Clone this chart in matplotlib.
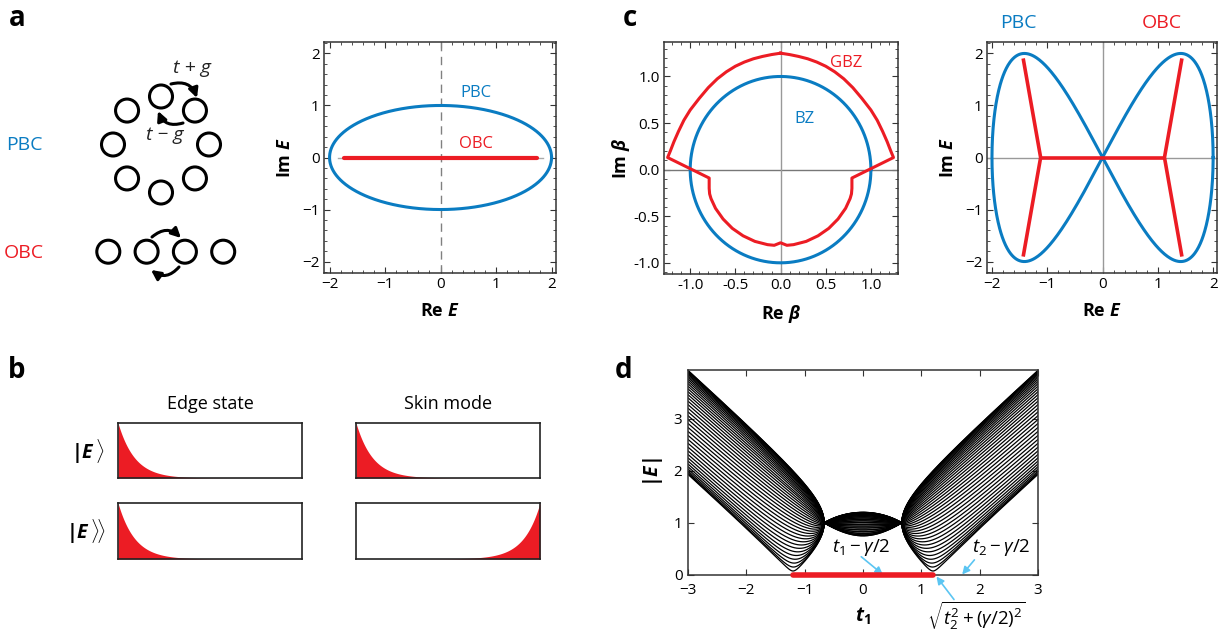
import numpy as np
import matplotlib
matplotlib.use("Agg")
import matplotlib.pyplot as plt
from matplotlib.patches import Circle, FancyArrowPatch
from matplotlib.ticker import MultipleLocator, FormatStrFormatter

# ---- panel a: hopping t +/- g (Hatano-Nelson)
t_hop = 1.0
g_hop = 0.5
obc_guide = 1.85

# ---- panel c: PBC spectrum E(k) = sum amp * exp(i n k)
pbc_orders = [1, -1, 2, -2]
pbc_amps = [1.0, 1.0, 1.0, -1.0]
# OBC branches (right half, mirrored to the left)
obc_branch_x = [1.43, 1.12, 1.43]
obc_branch_y = [1.87, 0.0, -1.87]
obc_center = 1.12
# GBZ, right half from top cusp round to bottom cusp
gbz_x = [0.0, 0.10, 0.20, 0.30, 0.40, 0.50, 0.60, 0.70, 0.80, 0.90, 1.00,
         1.07, 1.13, 1.18, 1.22, 1.25,
         0.79, 0.79, 0.785, 0.77, 0.72, 0.636, 0.534, 0.415, 0.284, 0.144, 0.07, 0.0]
gbz_y = [1.25, 1.235, 1.215, 1.19, 1.155, 1.11, 1.05, 0.975, 0.88, 0.765, 0.64,
         0.53, 0.41, 0.30, 0.20, 0.13,
         -0.09, -0.20, -0.26, -0.31, -0.415, -0.53, -0.63, -0.71, -0.77, -0.805, -0.812, -0.785]

# ---- panel d: non-Hermitian SSH chain
t2 = 1.0
gamma = 4.0 / 3.0
n_cells = 40

# ---- panel b: profile decay length (fraction of box width)
decay_len = 0.09

BLUE = "#0a7cc2"
RED = "#ec1c24"
ARROW = "#5bc5f2"
SPINE = "#333333"
FONTS = ["Open Sans", "DejaVu Sans"]

plt.rcParams["font.family"] = FONTS
plt.rcParams["mathtext.fontset"] = "custom"
plt.rcParams["mathtext.rm"] = "Open Sans"
plt.rcParams["mathtext.it"] = "Open Sans:italic"
plt.rcParams["mathtext.bf"] = "Open Sans:bold"
plt.rcParams["mathtext.bfit"] = "Open Sans:italic:bold"

W, H = 1228, 633
fig = plt.figure(figsize=(W / 100, H / 100), dpi=100)


def px_axes(l, t, r, b):
    return fig.add_axes([l / W, 1 - b / H, (r - l) / W, (b - t) / H])


def style(ax, minor=None):
    for s in ax.spines.values():
        s.set_color(SPINE)
        s.set_linewidth(1.1)
    ax.tick_params(direction="in", top=True, right=True, labelsize=11,
                   length=4, width=0.8, color=SPINE, pad=3)
    if minor is not None:
        ax.xaxis.set_minor_locator(MultipleLocator(minor[0]))
        ax.yaxis.set_minor_locator(MultipleLocator(minor[1]))
        ax.tick_params(which="minor", direction="in", top=True, right=True,
                       length=2, width=0.6, color=SPINE)


# overlay for schematic drawing, panel letters
ov = fig.add_axes([0, 0, 1, 1])
ov.set_xlim(0, W)
ov.set_ylim(H, 0)
ov.axis("off")

for lab, x, y in [("a", 17, 18), ("b", 17, 370), ("c", 630, 18), ("d", 624, 370)]:
    ov.text(x, y, lab, fontsize=20, fontweight="bold", ha="center", va="center")

# ring of 8 sites
ring_c = (161, 144.5)
for i in range(8):
    ang = np.deg2rad(90 - 45 * i)
    ov.add_patch(Circle((ring_c[0] + 48 * np.cos(ang), ring_c[1] - 48 * np.sin(ang)),
                        11.5, fill=False, lw=2.2, ec="black"))
for i in range(4):
    ov.add_patch(Circle((108.3 + 38.3 * i, 251.7), 11.5, fill=False, lw=2.2, ec="black"))


def hop_arrow(p0, p1):
    ov.add_patch(FancyArrowPatch(p0, p1, arrowstyle="-|>", mutation_scale=14,
                                 connectionstyle="arc3,rad=-0.45", lw=2.2,
                                 color="black", shrinkA=0, shrinkB=0))


hop_arrow((171, 84), (197, 98))
hop_arrow((183, 123), (158, 111))
hop_arrow((152, 237), (181, 238))
hop_arrow((179, 267), (151, 270))
ov.text(192, 68, "t + g", fontsize=14, style="italic", ha="center", va="center",
        color="#222222")
ov.text(165, 135, "t \u2212 g", fontsize=14, style="italic", ha="center", va="center",
        color="#222222")
ov.text(24, 145, "PBC", color=BLUE, fontsize=14, ha="center", va="center")
ov.text(24, 253, "OBC", color=RED, fontsize=14, ha="center", va="center")

# ---- panel a spectrum
axa = px_axes(324, 42, 556, 273)
k = np.linspace(0, 2 * np.pi, 800)
E_pbc = (t_hop + g_hop) * np.exp(1j * k) + (t_hop - g_hop) * np.exp(-1j * k)
e_obc = 2 * np.sqrt(t_hop ** 2 - g_hop ** 2)
axa.axvline(0, color="gray", lw=1, ls=(0, (6, 4)))
axa.plot([-obc_guide, obc_guide], [0, 0], color="#aaaaaa", lw=1)
axa.plot(E_pbc.real, E_pbc.imag, color=BLUE, lw=2.2)
axa.plot([-e_obc, e_obc], [0, 0], color=RED, lw=3, solid_capstyle="round")
axa.text(0.63, 1.24, "PBC", color=BLUE, fontsize=12, ha="center", va="center")
axa.text(0.63, 0.25, "OBC", color=RED, fontsize=12, ha="center", va="center")
axa.set_xlim(-2.1, 2.08)
axa.set_ylim(-2.22, 2.22)
axa.set_xticks([-2, -1, 0, 1, 2])
axa.set_yticks([-2, -1, 0, 1, 2])
style(axa, (0.2, 0.2))
axa.set_xlabel(r"Re $\mathbfit{E}$", fontsize=13, fontweight="bold", labelpad=7)
axa.set_ylabel(r"Im $\mathbfit{E}$", fontsize=13, fontweight="bold", labelpad=6)

# ---- panel c: GBZ
axc1 = px_axes(664, 42, 898, 274)
gx = np.concatenate([gbz_x, -np.array(gbz_x[::-1])])
gy = np.concatenate([gbz_y, np.array(gbz_y[::-1])])
axc1.axhline(0, color="#777777", lw=1)
axc1.axvline(0, color="#999999", lw=1)
axc1.plot(np.cos(k), np.sin(k), color=BLUE, lw=2.2)
axc1.plot(gx, gy, color=RED, lw=2.2)
axc1.text(0.73, 1.14, "GBZ", color=RED, fontsize=12, ha="center", va="center")
axc1.text(0.26, 0.54, "BZ", color=BLUE, fontsize=12, ha="center", va="center")
axc1.set_xlim(-1.29, 1.30)
axc1.set_ylim(-1.12, 1.37)
axc1.set_xticks([-1.0, -0.5, 0.0, 0.5, 1.0])
axc1.set_yticks([-1.0, -0.5, 0.0, 0.5, 1.0])
axc1.xaxis.set_major_formatter(FormatStrFormatter("%.1f"))
axc1.yaxis.set_major_formatter(FormatStrFormatter("%.1f"))
style(axc1, (0.1, 0.1))
axc1.set_xlabel(r"Re $\mathbfit{\beta}$", fontsize=13, fontweight="bold", labelpad=7)
axc1.set_ylabel(r"Im $\mathbfit{\beta}$", fontsize=13, fontweight="bold", labelpad=1)

# ---- panel c: spectra
axc2 = px_axes(987, 42, 1217, 273)
E2 = sum(a * np.exp(1j * n * k) for n, a in zip(pbc_orders, pbc_amps))
axc2.axhline(0, color="#999999", lw=1)
axc2.axvline(0, color="#999999", lw=1)
axc2.plot(E2.real, E2.imag, color=BLUE, lw=2.2)
bx = np.array(obc_branch_x)
by = np.array(obc_branch_y)
axc2.plot(bx, by, color=RED, lw=2.6)
axc2.plot(-bx, by, color=RED, lw=2.6)
axc2.plot([-obc_center, obc_center], [0, 0], color=RED, lw=2.6)
axc2.set_xlim(-2.09, 2.07)
axc2.set_ylim(-2.22, 2.22)
axc2.set_xticks([-2, -1, 0, 1, 2])
axc2.set_yticks([-2, -1, 0, 1, 2])
style(axc2, (0.2, 0.2))
axc2.set_xlabel(r"Re $\mathbfit{E}$", fontsize=13, fontweight="bold", labelpad=7)
axc2.set_ylabel(r"Im $\mathbfit{E}$", fontsize=13, fontweight="bold", labelpad=6)
ov.text(1018, 23, "PBC", color=BLUE, fontsize=14, ha="center", va="center")
ov.text(1162, 23, "OBC", color=RED, fontsize=14, ha="center", va="center")

# ---- panel b: profiles
xs = np.linspace(0, 1, 400)
prof = np.exp(-xs / decay_len)
boxes = [
    (118, 423, 302, 478, prof),
    (356, 423, 540, 478, prof),
    (118, 503, 302, 559, prof),
    (356, 503, 540, 559, prof[::-1]),
]
for l, t, r, b, p in boxes:
    ax = px_axes(l, t, r, b)
    ax.fill_between(xs, 0, p, color=RED, lw=0)
    ax.set_xlim(0, 1)
    ax.set_ylim(0, 1)
    ax.set_xticks([])
    ax.set_yticks([])
    for s in ax.spines.values():
        s.set_color("#222222")
        s.set_linewidth(1.2)
ov.text(210, 404, "Edge state", fontsize=13, ha="center", va="center")
ov.text(448, 404, "Skin mode", fontsize=13, ha="center", va="center")
ov.text(88, 452, r"$\mathbf{|}\mathbfit{E}\,\rangle$", fontsize=14, ha="center", va="center")
ov.text(86, 532, r"$\mathbf{|}\mathbfit{E}\,\rangle\!\rangle$", fontsize=14, ha="center", va="center")

# ---- panel d: |E| vs t1
axd = px_axes(688, 370, 1038, 575)
t1 = np.linspace(-3, 3, 1501)
a = t1 + gamma / 2
b = t1 - gamma / 2
s = np.sqrt(np.abs(a * b))
for m in range(1, n_cells + 1):
    km = np.pi * m / (n_cells + 1)
    E_sq = a * b + t2 ** 2 + t2 * s * (np.sign(a) * np.exp(1j * km) + np.sign(b) * np.exp(-1j * km))
    axd.plot(t1, np.sqrt(np.abs(E_sq)), color="black", lw=0.9)
t_edge = np.sqrt(t2 ** 2 + (gamma / 2) ** 2)
axd.plot([-t_edge, t_edge], [0, 0], color=RED, lw=4, clip_on=False, zorder=5,
         solid_capstyle="round")
axd.set_xlim(-3, 3)
axd.set_ylim(0, 3.93)
axd.set_xticks([-3, -2, -1, 0, 1, 2, 3])
axd.set_yticks([0, 1, 2, 3])
style(axd)
axd.tick_params(axis="x", pad=6)
axd.tick_params(axis="y", pad=4)
axd.set_xlabel(r"$\mathbfit{t}_\mathbf{1}$", fontsize=14, labelpad=5)
axd.set_ylabel(r"$\mathbf{|}\mathbfit{E}\mathbf{|}$", fontsize=14, labelpad=6)

arrow_kw = dict(arrowstyle="-|>", color=ARROW, lw=1.2, mutation_scale=11, shrinkA=0, shrinkB=0)
axd.annotate("", xy=(0.34, 0.01), xytext=(-0.03, 0.35), arrowprops=arrow_kw)
axd.text(-0.03, 0.53, r"$t_1 - \gamma/2$", fontsize=13.5, ha="center", va="center")
axd.annotate("", xy=(1.70, 0.01), xytext=(1.91, 0.29), arrowprops=arrow_kw)
axd.text(2.37, 0.53, r"$t_2 - \gamma/2$", fontsize=13.5, ha="center", va="center")
axd.annotate("", xy=(1.26, -0.03), xytext=(1.56, -0.47), arrowprops=arrow_kw,
             annotation_clip=False)
axd.text(1.95, -0.78, r"$\sqrt{t_2^2 + (\gamma/2)^2}$", fontsize=13.5, ha="center", va="center")

fig.savefig("out.png", dpi=100)
